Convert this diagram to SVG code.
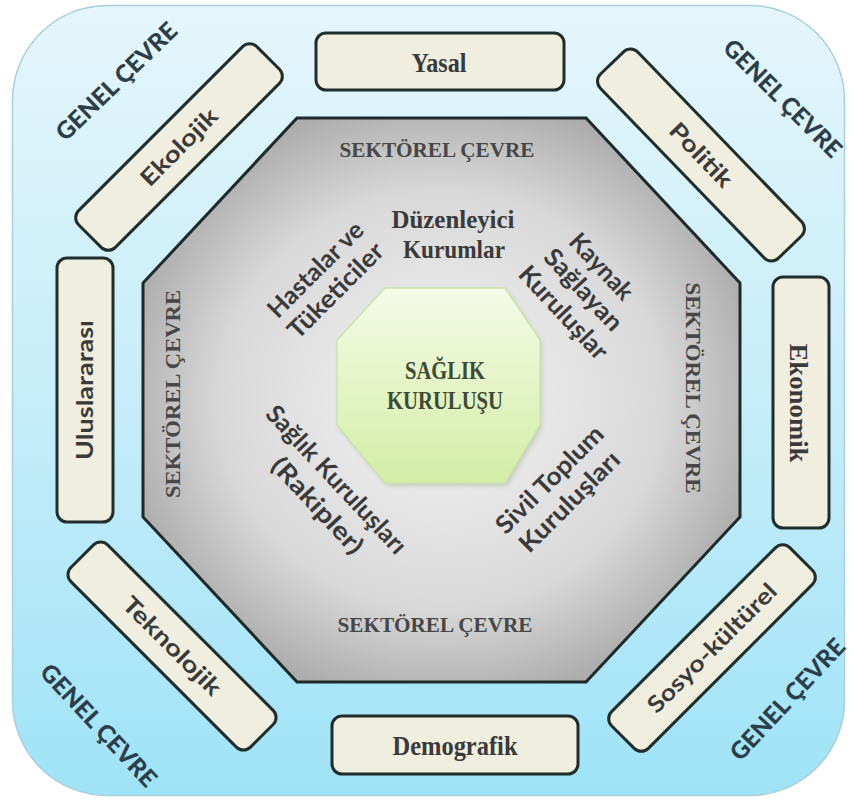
<svg xmlns="http://www.w3.org/2000/svg" width="852" height="803" viewBox="0 0 852 803">
<defs>
  <linearGradient id="bg" x1="0" y1="0" x2="0" y2="1">
    <stop offset="0" stop-color="#e5f6fb"/>
    <stop offset="0.5" stop-color="#c6edf9"/>
    <stop offset="1" stop-color="#9fe3f7"/>
  </linearGradient>
  <radialGradient id="oct" cx="0.5" cy="0.5" r="0.62">
    <stop offset="0" stop-color="#f5f5f5"/>
    <stop offset="0.6" stop-color="#d8d8d8"/>
    <stop offset="1" stop-color="#999999"/>
  </radialGradient>
  <linearGradient id="green" x1="0" y1="0" x2="0" y2="1">
    <stop offset="0" stop-color="#f5fbe7"/>
    <stop offset="1" stop-color="#d3eda6"/>
  </linearGradient>
  <filter id="sh" x="-10%" y="-10%" width="120%" height="120%">
    <feGaussianBlur stdDeviation="2.5"/>
  </filter>
</defs>
<style>
  .box{fill:#efeedf;stroke:#1f2d2d;stroke-width:3}
  .serif{font-family:"Liberation Serif",serif;font-weight:bold;fill:#3a3a3a;text-anchor:middle}
  .sans{font-family:Lato,"Liberation Sans",sans-serif;font-weight:bold;fill:#3a3a3a;text-anchor:middle}
  .genel{font-family:Lato,"Liberation Sans",sans-serif;font-weight:900;font-size:24px;fill:#2c3e4a;text-anchor:middle}
  .sek{font-family:"Liberation Serif",serif;font-weight:bold;font-size:22px;fill:#474747;text-anchor:middle}
  .inner{font-family:Lato,"Liberation Sans",sans-serif;font-weight:bold;font-size:25px;fill:#3a3a3a;text-anchor:middle}
  .core{font-family:"Liberation Serif",serif;font-weight:bold;font-size:25px;fill:#3d4a35;text-anchor:middle}
</style>

<g id="genel-cevre">
  <rect x="12.5" y="5.5" width="832" height="790" rx="95" fill="url(#bg)" stroke="#a9cfd9" stroke-width="1.5"/>
  <text class="genel" transform="translate(116,81) rotate(-44)" y="9" textLength="158" lengthAdjust="spacingAndGlyphs">GENEL ÇEVRE</text>
  <text class="genel" transform="translate(783,98) rotate(45)" y="9" textLength="156" lengthAdjust="spacingAndGlyphs">GENEL ÇEVRE</text>
  <text class="genel" transform="translate(99,725) rotate(47)" y="9" textLength="158" lengthAdjust="spacingAndGlyphs">GENEL ÇEVRE</text>
  <text class="genel" transform="translate(787,699) rotate(-47)" y="9" textLength="156" lengthAdjust="spacingAndGlyphs">GENEL ÇEVRE</text>
</g>

<g id="sektorel-cevre">
  <polygon points="297,118 586,118 740,283 740,517 586,682 297,682 143,517 143,283" fill="url(#oct)" stroke="#1e2a2a" stroke-width="3"/>
  <text class="sek" x="437" y="157" textLength="195" lengthAdjust="spacingAndGlyphs">SEKTÖREL ÇEVRE</text>
  <text class="sek" x="435" y="632" textLength="195" lengthAdjust="spacingAndGlyphs">SEKTÖREL ÇEVRE</text>
  <text class="sek" transform="translate(172,394) rotate(-90)" y="8" textLength="208" lengthAdjust="spacingAndGlyphs">SEKTÖREL ÇEVRE</text>
  <text class="sek" transform="translate(694,388) rotate(90)" y="8" textLength="211" lengthAdjust="spacingAndGlyphs">SEKTÖREL ÇEVRE</text>
</g>

<g id="yasal">
  <rect class="box" x="316" y="33" width="248" height="57" rx="10"/>
  <text class="serif" x="439" y="72" font-size="27" textLength="55" lengthAdjust="spacingAndGlyphs">Yasal</text>
</g>
<g id="demografik">
  <rect class="box" x="332" y="716" width="246" height="58" rx="10"/>
  <text class="serif" x="455" y="755" font-size="27" textLength="125" lengthAdjust="spacingAndGlyphs">Demografik</text>
</g>
<g id="uluslararasi">
  <rect class="box" x="57" y="258" width="56" height="264" rx="10"/>
  <text class="sans" transform="translate(85,390) rotate(-90)" y="8" font-size="23" textLength="140" lengthAdjust="spacingAndGlyphs">Uluslararası</text>
</g>
<g id="ekonomik">
  <rect class="box" x="773" y="277" width="56" height="251" rx="10"/>
  <text class="serif" transform="translate(798,403) rotate(90)" y="8" font-size="25" textLength="119" lengthAdjust="spacingAndGlyphs">Ekonomik</text>
</g>
<g id="ekolojik" transform="translate(179,147) rotate(-45)">
  <rect class="box" x="-126" y="-26" width="252" height="52" rx="10"/>
  <text class="sans" y="8" font-size="23" textLength="99" lengthAdjust="spacingAndGlyphs">Ekolojik</text>
</g>
<g id="politik" transform="translate(701,155) rotate(46)">
  <rect class="box" x="-128" y="-26" width="256" height="52" rx="10"/>
  <text class="sans" y="8" font-size="23" textLength="80" lengthAdjust="spacingAndGlyphs">Politik</text>
</g>
<g id="teknolojik" transform="translate(172,646) rotate(45)">
  <rect class="box" x="-127" y="-26" width="254" height="52" rx="10"/>
  <text class="sans" y="8" font-size="23" textLength="129" lengthAdjust="spacingAndGlyphs">Teknolojik</text>
</g>
<g id="sosyo-kulturel" transform="translate(712,648) rotate(-45)">
  <rect class="box" x="-126" y="-26" width="252" height="52" rx="10"/>
  <text class="sans" y="8" font-size="23" textLength="172" lengthAdjust="spacingAndGlyphs">Sosyo-kültürel</text>
</g>

<g id="duzenleyici-kurumlar">
  <text class="serif" x="453" y="228" font-size="25" textLength="123" lengthAdjust="spacingAndGlyphs">Düzenleyici</text>
  <text class="serif" x="454" y="258" font-size="25" textLength="102" lengthAdjust="spacingAndGlyphs">Kurumlar</text>
</g>
<g id="hastalar-ve-tuketiciler">
  <text class="inner" transform="translate(316,270) rotate(-45)" y="8" textLength="124" lengthAdjust="spacingAndGlyphs">Hastalar ve</text>
  <text class="inner" transform="translate(336,291) rotate(-45)" y="8" textLength="124" lengthAdjust="spacingAndGlyphs">Tüketiciler</text>
</g>
<g id="kaynak-saglayan-kuruluslar">
  <text class="inner" transform="translate(601,267) rotate(47)" y="8" textLength="81" lengthAdjust="spacingAndGlyphs">Kaynak</text>
  <text class="inner" transform="translate(583,290) rotate(47)" y="8" textLength="102" lengthAdjust="spacingAndGlyphs">Sağlayan</text>
  <text class="inner" transform="translate(563,313) rotate(47)" y="8" textLength="118" lengthAdjust="spacingAndGlyphs">Kuruluşlar</text>
</g>
<g id="saglik-kuruluslari-rakipler">
  <text class="inner" transform="translate(336,480) rotate(47)" y="8" textLength="193" lengthAdjust="spacingAndGlyphs">Sağlık Kuruluşları</text>
  <text class="inner" transform="translate(317,506) rotate(47)" y="8" textLength="122" lengthAdjust="spacingAndGlyphs">(Rakipler)</text>
</g>
<g id="sivil-toplum-kuruluslari">
  <text class="inner" transform="translate(550,480) rotate(-45)" y="8" textLength="141" lengthAdjust="spacingAndGlyphs">Sivil Toplum</text>
  <text class="inner" transform="translate(570,502) rotate(-45)" y="8" textLength="131" lengthAdjust="spacingAndGlyphs">Kuruluşları</text>
</g>

<g id="saglik-kurulusu">
  <polygon points="385,288 505,288 540,340 540,425 505,483 385,483 337,425 337,340" transform="translate(2,3)" fill="#9fb48a" opacity="0.5" filter="url(#sh)"/>
  <polygon points="385,288 505,288 540,340 540,425 505,483 385,483 337,425 337,340" fill="url(#green)" stroke="#cde2ae" stroke-width="1.5"/>
  <text class="core" x="445" y="379" textLength="80" lengthAdjust="spacingAndGlyphs">SAĞLIK</text>
  <text class="core" x="445" y="409" textLength="116" lengthAdjust="spacingAndGlyphs">KURULUŞU</text>
</g>

<g id="connectors"/>
</svg>
